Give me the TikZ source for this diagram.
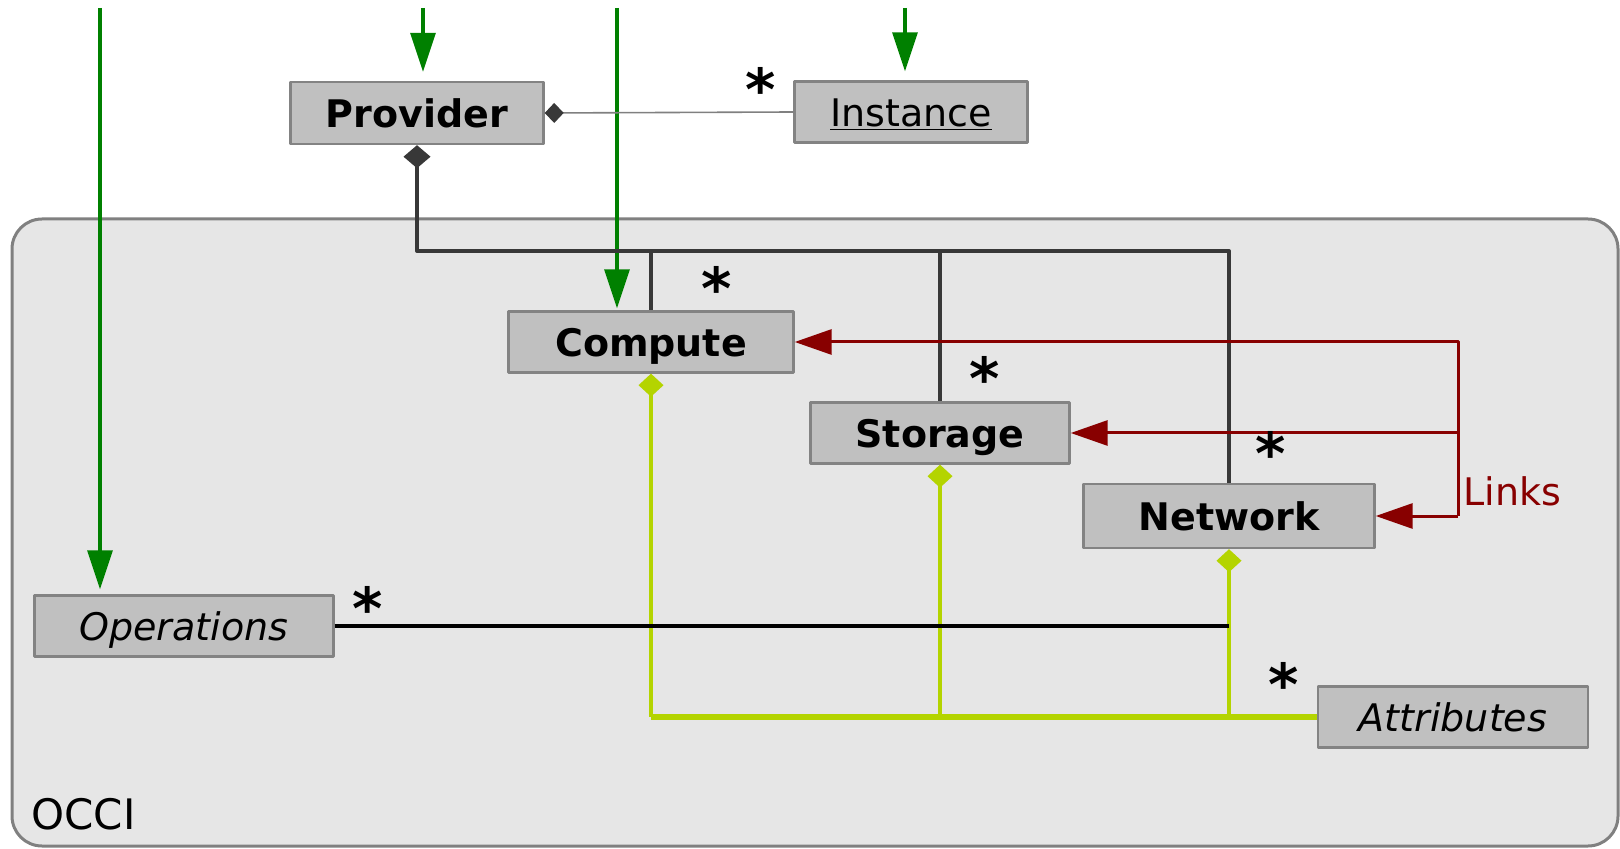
\documentclass[tikz,border=0pt]{standalone}
\usepackage{fontspec}
\setmainfont{DejaVu Sans}
\usetikzlibrary{arrows.meta,positioning,calc}
\definecolor{boxfill}{HTML}{C0C0C0}
\definecolor{boxline}{HTML}{838383}
\definecolor{occifill}{HTML}{E6E6E6}
\definecolor{occiline}{HTML}{808080}
\definecolor{arrgreen}{HTML}{008000}
\definecolor{linkred}{HTML}{880000}
\definecolor{attrgreen}{HTML}{B4D400}
\definecolor{darkline}{HTML}{383838}
\tikzset{
  classbox/.style={draw=boxline, fill=boxfill, line width=1.2pt, inner sep=0pt,
    text height=14.4pt, text depth=0pt, font=\fontsize{19}{23}\selectfont},
  occibox/.style={draw=occiline, fill=occifill, line width=1.5pt, rounded corners=15pt,
    minimum width=803pt, minimum height=313.5pt, inner sep=0pt},
  mult/.style={inner sep=0pt, text height=24pt, text depth=-12pt,
    font=\bfseries\fontsize{29}{29}\selectfont},
  greenarrow/.style={draw=arrgreen, line width=1.6pt, -{Triangle[length=19.5pt,width=12.5pt]}},
  linkline/.style={draw=linkred, line width=1.5pt, -{Triangle[length=18.5pt,width=12.5pt]}},
  ownline/.style={draw=darkline, line width=2pt, {Diamond[length=11.5pt,width=13.5pt]}-},
  partline/.style={draw=darkline, line width=1.7pt},
  instline/.style={draw=gray, line width=0.8pt, {Diamond[length=9.5pt,width=10pt,color=darkline]}-},
  opline/.style={draw=black, line width=2pt},
  attrline/.style={draw=attrgreen, line width=2pt, {Diamond[length=11.5pt,width=12.5pt]}-},
  attrbus/.style={draw=attrgreen, line width=3pt}
}
\newcommand \myclass[5]
{
\node[classbox, minimum width=#2, minimum height=#3] (#1) at (#4) {#5};
}
\begin{document}
\begin{tikzpicture}[x=0.5pt, y=-0.5pt, line join=round]
\useasboundingbox (0,0) rectangle (1620,849);
\node[occibox] (occi) at (815,532.5) {};
\node[anchor=west, inner sep=0pt, font=\fontsize{21}{25}\selectfont] (occit) at (31,814) {OCCI};
% classes
\myclass{prov}{126.5pt}{31pt}{417,113}{\bfseries Provider}
\myclass{inst}{116.5pt}{30.5pt}{911,112}{\underline{Instance}}
\myclass{comp}{142.5pt}{30.5pt}{651,342}{\bfseries Compute}
\myclass{stor}{129.5pt}{30.5pt}{940,433}{\bfseries Storage}
\myclass{netw}{145.5pt}{32pt}{1229,516}{\bfseries Network}
\myclass{oper}{149.5pt}{30.5pt}{184,626}{\itshape Operations}
\myclass{attr}{135pt}{30.5pt}{1453,717}{\itshape Attributes}
% free ends
\coordinate (g1) at (100,8);
\coordinate (g2) at (423,8);
\coordinate (g3) at (617,8);
\coordinate (g4) at (905,8);
\coordinate (bus) at (0,251);
\coordinate (lk) at (1458,516);
% green arrows
\draw[greenarrow, shorten >=2.5pt] (g1) -- (g1 |- oper.north);
\draw[greenarrow, shorten >=4.5pt] (g2) -- (g2 |- prov.north);
\draw[greenarrow, shorten >=1pt]   (g3) -- (g3 |- comp.north);
\draw[greenarrow, shorten >=4.5pt] (g4) -- (g4 |- inst.north);
% provider
\draw[instline] (prov.east) -- (inst.west);
\draw[ownline] (prov.south) |- (netw.north |- bus) -- (netw.north);
\draw[partline] (comp.north |- bus) -- (comp.north);
\draw[partline] (stor.north |- bus) -- (stor.north);
% links
\draw[linkline] (lk) -- (netw.east);
\draw[linkline] (lk) |- (stor.east);
\draw[linkline] (lk) |- (comp.east);
\node[anchor=west, inner sep=0pt, text=linkred, font=\fontsize{19}{23}\selectfont] (lnk) at (1463,491) {Links};
% attributes
\draw[attrline] (comp.south) -- (comp.south |- attr.west);
\draw[attrline] (stor.south) -- (stor.south |- attr.west);
\draw[attrline] (netw.south) -- (netw.south |- attr.west);
\draw[attrbus] (comp.south |- attr.west) -- (attr.west);
% operations
\draw[opline] (oper.east) -- (oper.east -| netw.south);
% multiplicities
\node[mult] (m1) at (761,87)  {*};
\node[mult] (m2) at (717,286) {*};
\node[mult] (m3) at (985,376) {*};
\node[mult] (m4) at (1271,450) {*};
\node[mult] (m5) at (368,605) {*};
\node[mult] (m6) at (1284,681) {*};
\end{tikzpicture}
\end{document}
